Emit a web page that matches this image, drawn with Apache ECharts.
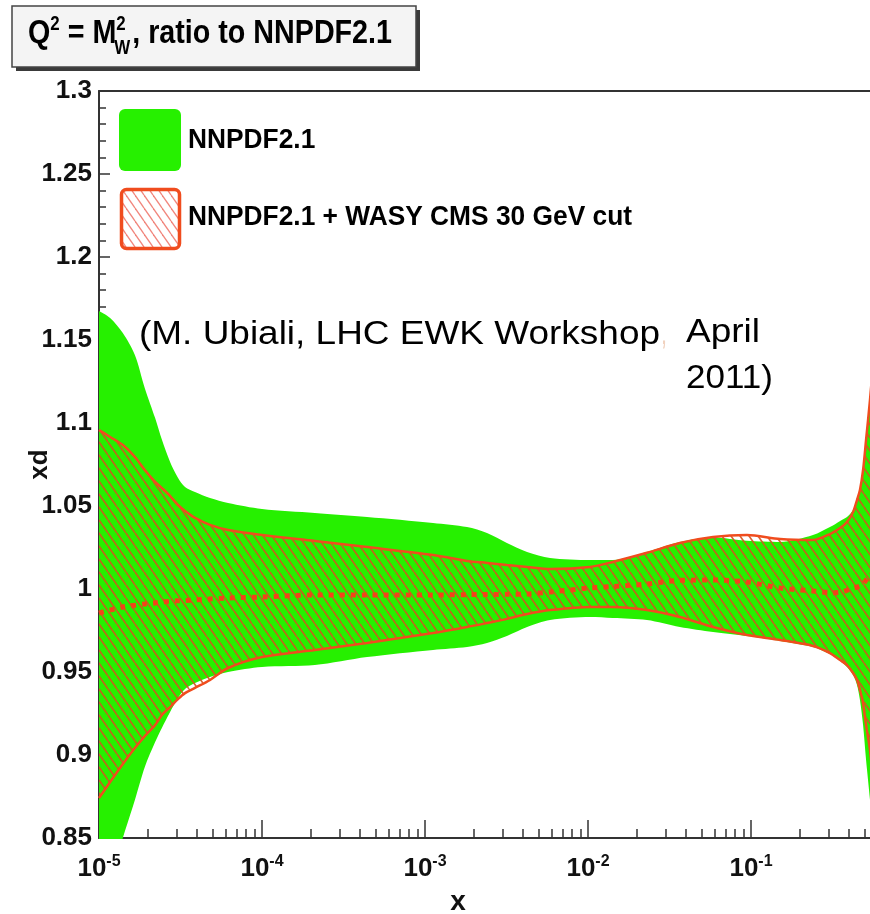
<!DOCTYPE html>
<html><head><meta charset="utf-8">
<script src="https://cdn.jsdelivr.net/npm/echarts@6/dist/echarts.min.js"></script>
<style>html,body{margin:0;padding:0;background:#fff}#c{width:870px;height:914px}</style>
</head><body><div id="c"></div>
<script>
// ---- data ----
const xValues = [1.00e-5, 1.17e-5, 1.40e-5, 1.66e-5, 1.91e-5, 2.21e-5, 2.43e-5, 2.73e-5, 3.05e-5, 3.37e-5,
  3.88e-5, 4.80e-5, 6.19e-5, 1.00e-4, 2.11e-4, 4.41e-4, 1.12e-3, 1.81e-3, 2.40e-3, 3.18e-3,
  4.23e-3, 5.85e-3, 1.03e-2, 1.42e-2, 2.30e-2, 3.66e-2, 5.85e-2, 9.44e-2, 0.151, 0.240,
  0.305, 0.352, 0.388, 0.423, 0.447, 0.466, 0.487, 0.508, 0.537, 0.577];
const greenHigh = [1.1675, 1.1633, 1.1542, 1.141, 1.121, 1.103, 1.090, 1.0765, 1.067, 1.0614,
  1.0584, 1.0548, 1.0518, 1.0482, 1.0458, 1.0434, 1.0398, 1.0373, 1.0337, 1.0277,
  1.0223, 1.0187, 1.0175, 1.0175, 1.0223, 1.0283, 1.031, 1.029, 1.0283, 1.0325,
  1.0373, 1.041, 1.0434, 1.0476, 1.0536, 1.0596, 1.0717, 1.0898, 1.1139, 1.15];
const greenLow = [0.804, 0.8247, 0.85, 0.8729, 0.8928, 0.9078, 0.9163, 0.9259, 0.9343, 0.9398,
  0.9434, 0.947, 0.95, 0.953, 0.9542, 0.959, 0.9633, 0.9651, 0.9675, 0.9717,
  0.9771, 0.9813, 0.9831, 0.9825, 0.9813, 0.9771, 0.9741, 0.9717, 0.9687, 0.9651,
  0.9608, 0.9566, 0.953, 0.9482, 0.9422, 0.9331, 0.918, 0.897, 0.873, 0.837];
const redHigh = [1.0958, 1.0916, 1.0867, 1.0795, 1.0717, 1.0645, 1.0608, 1.056, 1.0506, 1.047,
  1.0428, 1.0386, 1.0355, 1.0325, 1.0289, 1.0253, 1.0205, 1.0169, 1.0157, 1.0145,
  1.0133, 1.012, 1.0133, 1.0163, 1.0218, 1.0277, 1.0313, 1.0325, 1.0301, 1.0295,
  1.0331, 1.0367, 1.0404, 1.0464, 1.0536, 1.0596, 1.0717, 1.0898, 1.1139, 1.15];
const redLow = [0.8741, 0.8837, 0.8946, 0.9042, 0.9114, 0.9181, 0.9241, 0.9289, 0.9337, 0.9373,
  0.9404, 0.9452, 0.9524, 0.959, 0.9633, 0.9675, 0.9735, 0.9771, 0.9795, 0.982,
  0.9849, 0.9873, 0.9892, 0.9892, 0.9873, 0.9831, 0.9771, 0.9723, 0.9693, 0.9657,
  0.9614, 0.9572, 0.9542, 0.9494, 0.9452, 0.9392, 0.9313, 0.918, 0.903, 0.873];
const central = [0.9855, 0.9873, 0.9892, 0.9902, 0.991, 0.9916, 0.9922, 0.9926, 0.9929, 0.9931,
  0.9934, 0.994, 0.9946, 0.9952, 0.9964, 0.9964, 0.9964, 0.9966, 0.9967, 0.9968,
  0.997, 0.9982, 1.0006, 1.0015, 1.003, 1.0052, 1.0054, 1.0042, 1.0006, 0.9988,
  0.9978, 0.998, 0.9992, 1.0005, 1.0012, 1.0018, 1.003, 1.0054, 1.0078, 1.012];
const xMin = 1e-5;
const xMaxVisible = 0.537;   // the picture is cut at this x
const xDecades = [-5, -4, -3, -2, -1];
const xMinorFactors = [2, 3, 4, 5, 6, 7, 8, 9];
const seriesNames = ['NNPDF2.1', 'NNPDF2.1 + WASY CMS 30 GeV cut'];
const yAxisTitle = 'xd';
const xAxisTitle = 'x';

// ---- styling helpers ----
const GREEN = '#26f000';
const RED = '#f04c1e';
const AX_FAMILY = '"Liberation Sans", Arial, Helvetica, sans-serif';
const AX_SIZE = 26;
const SUP_SIZE = 16;

const mctx = document.createElement('canvas').getContext('2d');
function measure(str, font) { mctx.font = font; return mctx.measureText(str).width; }
function fontStr(size, bold) { return (bold ? 'bold ' : '') + size + 'px "Liberation Sans", Arial, sans-serif'; }
function textEl(str, left, cy, size, bold, scale, color) {
  return { type: 'text', x: left, y: cy, scaleX: scale, z: 100,
    style: { text: str, x: 0, y: 0, font: fontStr(size, bold), fill: color || '#000', align: 'left', verticalAlign: 'middle' } };
}
function fitText(str, left, cy, size, bold, width, color) {
  return textEl(str, left, cy, size, bold, width / measure(str, fontStr(size, bold)), color);
}
function makeHatch(w, h, color, lw, bg) {
  const c = document.createElement('canvas'); c.width = w; c.height = h;
  const g = c.getContext('2d');
  if (bg) { g.fillStyle = bg; g.fillRect(0, 0, w, h); }
  g.strokeStyle = color; g.lineWidth = lw;
  for (const dx of [-w, 0, w]) { g.beginPath(); g.moveTo(dx, 0); g.lineTo(dx + w, h); g.stroke(); }
  return c;
}
const hatchBand = makeHatch(9, 13, 'rgba(212,84,30,0.9)', 1.6, null);
const hatchLegend = makeHatch(9, 13, 'rgba(240,120,110,0.9)', 1.3, '#ffffff');

// ---- title pieces (Q^2 = M_W^2, ratio to NNPDF2.1) ----
function titleGroup() {
  const main = 34, sm = 20, cy = 34, left = 28, total = 364;
  const pieces = [
    { t: 'Q', size: main, dy: 0 },
    { t: '2', size: sm, dy: -10 },
    { t: ' = M', size: main, dy: 0 },
    { t: '2', size: sm, dy: -10, stack: 'W' },
    { t: ', ratio to NNPDF2.1', size: main, dy: 0 }
  ];
  let nat = 0;
  pieces.forEach(p => {
    p.w = measure(p.t, fontStr(p.size, true));
    if (p.stack) p.w = Math.max(p.w, measure(p.stack, fontStr(sm, true)));
    nat += p.w;
  });
  const s = total / nat;
  const els = [];
  let cur = left;
  pieces.forEach(p => {
    els.push({ type: 'text', x: cur, y: cy + p.dy, scaleX: s, z: 101,
      style: { text: p.t, font: fontStr(p.size, true), fill: '#000', align: 'left', verticalAlign: 'middle' } });
    if (p.stack) {
      els.push({ type: 'text', x: cur - 2, y: cy + 14, scaleX: s, z: 101,
        style: { text: p.stack, font: fontStr(sm, true), fill: '#000', align: 'left', verticalAlign: 'middle' } });
    }
    cur += p.w * s;
  });
  return els;
}

// legend labels share one horizontal scale
const LEG_SIZE = 27;
const legScale = 444 / measure(seriesNames[1], fontStr(LEG_SIZE, true));

const xMinLog = Math.log10(xMin), xMaxLog = Math.log10(xMaxVisible);
const minorLog = [];
xDecades.forEach(d => xMinorFactors.forEach(k => minorLog.push(d + Math.log10(k))));

// rows are [y, x] so that stacking is done on the value (y) dimension
const rows = (arr) => xValues.map((x, i) => [arr[i], x]);
const diffRows = (hi, lo) => xValues.map((x, i) => [+(hi[i] - lo[i]).toFixed(5), x]);
const ENC = { x: 1, y: 0 };

const chart = echarts.init(document.getElementById('c'), null, { renderer: 'canvas' });
const axisLineStyle = { color: '#333', width: 2 };
chart.setOption({
  animation: false,
  backgroundColor: '#fff',
  grid: { left: 99, right: 0, top: 91, bottom: 76, containLabel: false, outerBoundsMode: 'none' },
  xAxis: [
    { type: 'log', logBase: 10, min: xMin, max: xMaxVisible, position: 'bottom',
      name: xAxisTitle, nameLocation: 'middle', nameGap: 50, nameMoveOverlap: false,
      nameTextStyle: { fontFamily: AX_FAMILY, fontWeight: 'bold', fontSize: 28, color: '#111', padding: [0, 53, 0, 0] },
      axisLine: { show: true, onZero: false, lineStyle: axisLineStyle },
      axisTick: { show: true, inside: true, length: 18, lineStyle: { color: '#333', width: 1.5 } },
      splitLine: { show: false }, minorTick: { show: false },
      axisLabel: { margin: 16, showMaxLabel: false, showMinLabel: true,
        formatter: v => '{b|10}{s|' + Math.round(Math.log10(v)) + '}',
        rich: {
          b: { fontFamily: AX_FAMILY, fontWeight: 'bold', fontSize: AX_SIZE, color: '#111', lineHeight: 28, verticalAlign: 'bottom' },
          s: { fontFamily: AX_FAMILY, fontWeight: 'bold', fontSize: SUP_SIZE, color: '#111', lineHeight: 16, verticalAlign: 'top' }
        } } },
    { type: 'value', min: xMinLog, max: xMaxLog, position: 'bottom',
      axisLine: { show: false, onZero: false }, axisLabel: { show: false }, splitLine: { show: false },
      axisTick: { show: true, inside: true, length: 9, customValues: minorLog, lineStyle: { color: '#333', width: 1.5 } } },
    { type: 'value', min: 0, max: 1, position: 'top',
      axisLine: { show: true, onZero: false, lineStyle: axisLineStyle }, axisTick: { show: false },
      axisLabel: { show: false }, splitLine: { show: false } }
  ],
  yAxis: {
    type: 'value', min: 0.85, max: 1.3, interval: 0.05,
    name: yAxisTitle, nameLocation: 'middle', nameRotate: 90, nameGap: 46, nameMoveOverlap: false,
    nameTextStyle: { fontFamily: AX_FAMILY, fontWeight: 'bold', fontSize: 26, color: '#111' },
    axisLine: { show: true, onZero: false, lineStyle: axisLineStyle },
    axisTick: { show: true, inside: true, length: 11, lineStyle: { color: '#333', width: 1.5 } },
    minorTick: { show: true, splitNumber: 5, length: 7, lineStyle: { color: '#333', width: 1.5 } },
    splitLine: { show: false },
    axisLabel: { margin: 7, fontFamily: AX_FAMILY, fontWeight: 'bold', fontSize: AX_SIZE, color: '#111' }
  },
  series: [
    { type: 'line', name: 'gLow', stack: 'green', data: rows(greenLow), encode: ENC, symbol: 'none', smooth: 0.3,
      lineStyle: { opacity: 0 }, silent: true, z: 2 },
    { type: 'line', name: seriesNames[0], stack: 'green', data: diffRows(greenHigh, greenLow), encode: ENC, symbol: 'none', smooth: 0.3,
      lineStyle: { opacity: 0 }, areaStyle: { color: GREEN, opacity: 1 }, z: 2 },
    { type: 'line', name: 'rLow', stack: 'red', data: rows(redLow), encode: ENC, symbol: 'none', smooth: 0.3,
      lineStyle: { color: RED, width: 2.5 }, z: 4 },
    { type: 'line', name: seriesNames[1], stack: 'red', data: diffRows(redHigh, redLow), encode: ENC, symbol: 'none', smooth: 0.3,
      lineStyle: { color: RED, width: 2.5 }, areaStyle: { color: { image: hatchBand, repeat: 'repeat' }, opacity: 1 }, z: 3 },
    { type: 'line', name: 'central', data: rows(central), encode: ENC, symbol: 'none', smooth: 0.3,
      lineStyle: { color: '#f4421a', width: 5, type: [5, 6], cap: 'butt', opacity: 1 }, z: 6 }
  ],
  graphic: [
    { type: 'rect', shape: { x: 16, y: 10, width: 404, height: 61 }, style: { fill: '#3a3a3a' }, z: 99 },
    { type: 'rect', shape: { x: 12, y: 6, width: 404, height: 61 }, style: { fill: '#f4f4f4', stroke: '#444', lineWidth: 1.5 }, z: 100 },
    ...titleGroup(),
    { type: 'rect', shape: { x: 119, y: 109, width: 62, height: 62, r: 6 }, style: { fill: GREEN }, z: 100 },
    { type: 'rect', shape: { x: 121.5, y: 189.5, width: 58, height: 59, r: 5 },
      style: { fill: { image: hatchLegend, repeat: 'repeat' }, stroke: RED, lineWidth: 3.5 }, z: 100 },
    textEl(seriesNames[0], 188, 141, LEG_SIZE, true, legScale),
    textEl(seriesNames[1], 188, 218, LEG_SIZE, true, legScale),
    fitText('(M. Ubiali, LHC EWK Workshop', 139, 335, 34, false, 521),
    fitText(',', 661, 335, 34, false, 6, '#f1d2bf'),
    fitText('April', 686, 333, 34, false, 74),
    fitText('2011)', 686, 379, 34, false, 87)
  ]
});
</script></body></html>
